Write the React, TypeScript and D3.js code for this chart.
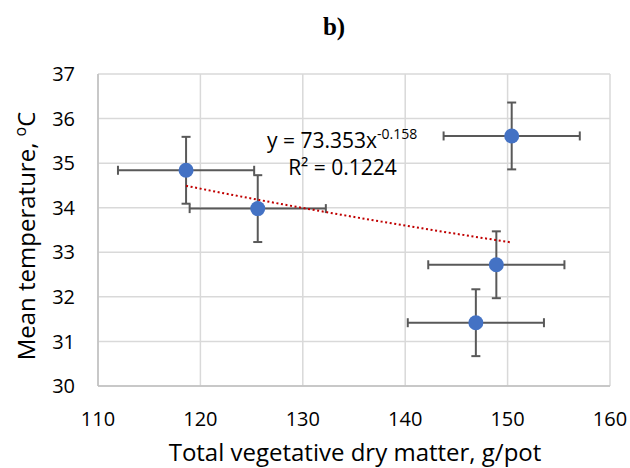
import * as d3 from 'd3';

const WIDTH = 630;
const HEIGHT = 468;
const MARGIN = { top: 74, right: 20, bottom: 82, left: 98 };

// measured points (x = dry matter g/pot, y = mean temperature °C)
const dryMatter = [118.6, 125.6, 150.4, 148.9, 146.9];
const meanTemp = [34.84, 33.98, 35.61, 32.72, 31.42];
const xError = [6.65, 6.65, 6.65, 6.65, 6.65];
const yError = [0.75, 0.75, 0.75, 0.75, 0.75];

const xTicks = [110, 120, 130, 140, 150, 160];
const yTicks = [30, 31, 32, 33, 34, 35, 36, 37];

// power trendline y = a * x^b
const trendA = 73.353;
const trendB = -0.158;

const FONT = "'Open Sans', sans-serif";

const App = () => {
  const boundsWidth = WIDTH - MARGIN.left - MARGIN.right;
  const boundsHeight = HEIGHT - MARGIN.top - MARGIN.bottom;

  const xScale = d3.scaleLinear().domain([110, 160]).range([0, boundsWidth]);
  const yScale = d3.scaleLinear().domain([30, 37]).range([boundsHeight, 0]);

  const xMin = d3.min(dryMatter) ?? 110;
  const xMax = d3.max(dryMatter) ?? 160;
  const trendData = d3.range(0, 41).map((i) => {
    const x = xMin + ((xMax - xMin) * i) / 40;
    return [x, trendA * Math.pow(x, trendB)] as [number, number];
  });
  const trendPath = d3
    .line<[number, number]>()
    .x((d) => xScale(d[0]))
    .y((d) => yScale(d[1]))(trendData);

  const CAP = 4.5;

  return (
    <svg
      width={WIDTH}
      height={HEIGHT}
      style={{ position: 'absolute', left: 0, top: 0, background: '#fff' }}
    >
      <text
        x={334}
        y={35}
        textAnchor="middle"
        fontFamily="'Liberation Serif', 'Times New Roman', serif"
        fontWeight="bold"
        fontSize={25}
      >
        b)
      </text>

      <g transform={`translate(${MARGIN.left},${MARGIN.top})`}>
        {/* grid */}
        {yTicks.map((v) => (
          <line
            key={'gy' + v}
            x1={0}
            x2={boundsWidth}
            y1={yScale(v)}
            y2={yScale(v)}
            stroke="#d9d9d9"
            strokeWidth={1.5}
          />
        ))}
        {xTicks.map((v) => (
          <line
            key={'gx' + v}
            x1={xScale(v)}
            x2={xScale(v)}
            y1={0}
            y2={boundsHeight}
            stroke="#d9d9d9"
            strokeWidth={1.5}
          />
        ))}
        <line x1={0} x2={0} y1={0} y2={boundsHeight} stroke="#bfbfbf" strokeWidth={1.5} />
        <line x1={0} x2={boundsWidth} y1={boundsHeight} y2={boundsHeight} stroke="#bfbfbf" strokeWidth={1.5} />

        {/* tick labels */}
        {yTicks.map((v) => (
          <text
            key={'ty' + v}
            x={-23}
            y={yScale(v)}
            dy="0.36em"
            textAnchor="end"
            fontFamily={FONT}
            fontSize={20}
            fill="#000"
          >
            {v}
          </text>
        ))}
        {xTicks.map((v) => (
          <text
            key={'tx' + v}
            x={xScale(v)}
            y={boundsHeight + 40}
            textAnchor="middle"
            fontFamily={FONT}
            fontSize={20}
            fill="#000"
          >
            {v}
          </text>
        ))}

        {/* error bars */}
        {dryMatter.map((x, i) => {
          const cx = xScale(x);
          const cy = yScale(meanTemp[i]);
          const x0 = xScale(x - xError[i]);
          const x1 = xScale(x + xError[i]);
          const y0 = yScale(meanTemp[i] + yError[i]);
          const y1 = yScale(meanTemp[i] - yError[i]);
          return (
            <g key={'e' + i} stroke="#595959" strokeWidth={2} fill="none">
              <line x1={x0} x2={x1} y1={cy} y2={cy} />
              <line x1={x0} x2={x0} y1={cy - CAP} y2={cy + CAP} />
              <line x1={x1} x2={x1} y1={cy - CAP} y2={cy + CAP} />
              <line x1={cx} x2={cx} y1={y0} y2={y1} />
              <line x1={cx - CAP} x2={cx + CAP} y1={y0} y2={y0} />
              <line x1={cx - CAP} x2={cx + CAP} y1={y1} y2={y1} />
            </g>
          );
        })}

        {/* markers */}
        {dryMatter.map((x, i) => (
          <circle
            key={'p' + i}
            cx={xScale(x)}
            cy={yScale(meanTemp[i])}
            r={7.5}
            fill="#4472c4"
          />
        ))}

        {/* trendline */}
        <path
          d={trendPath ?? ''}
          fill="none"
          stroke="#c00000"
          strokeWidth={2}
          strokeDasharray="2 2.6"
        />

        {/* equation */}
        <text x={169} y={74} fontFamily={FONT} fontSize={21} fill="#000">
          y = 73.353x
          <tspan dy={-9} fontSize={14}>
            -0.158
          </tspan>
        </text>
        <text x={244.5} y={101} textAnchor="middle" fontFamily={FONT} fontSize={21} fill="#000">
          R² = 0.1224
        </text>
      </g>

      {/* axis titles */}
      <text
        x={355}
        y={461}
        textAnchor="middle"
        fontFamily={FONT}
        fontSize={24}
        fill="#000"
      >
        Total vegetative dry matter, g/pot
      </text>
      <text
        transform={`translate(35,236) rotate(-90)`}
        textAnchor="middle"
        fontFamily={FONT}
        fontSize={24}
        fill="#000"
      >
        {'Mean temperature, '}
        <tspan dy={-9} fontSize={16}>
          o
        </tspan>
        <tspan dy={9}>C</tspan>
      </text>
    </svg>
  );
};

export default App;
